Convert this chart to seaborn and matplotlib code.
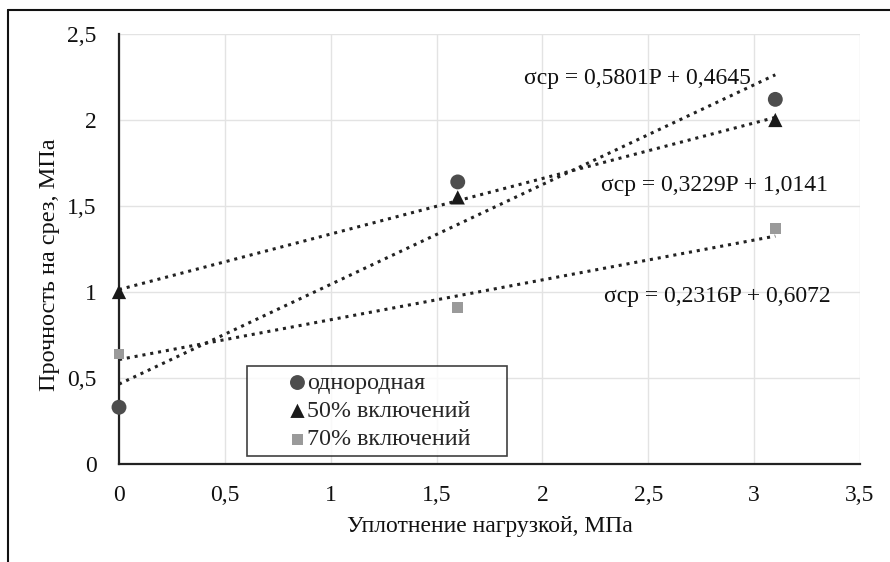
import matplotlib
matplotlib.use("Agg")
import matplotlib.pyplot as plt
import seaborn as sns
import pandas as pd
import numpy as np
from matplotlib.lines import Line2D

# ---- data ----
x_load = [0.0, 1.6, 3.1]
y_homog = [0.33, 1.64, 2.12]
y_50 = [1.00, 1.55, 2.00]
y_70 = [0.64, 0.91, 1.37]
series_names = ["однородная", "50% включений", "70% включений"]
slopes = [0.5801, 0.3229, 0.2316]
intercepts = [0.4645, 1.0141, 0.6072]
eq_texts = ["σср = 0,5801P + 0,4645", "σср = 0,3229P + 1,0141", "σср = 0,2316P + 0,6072"]
xticks = [0, 0.5, 1, 1.5, 2, 2.5, 3, 3.5]
xtick_labels = ["0", "0,5", "1", "1,5", "2", "2,5", "3", "3,5"]
yticks = [0, 0.5, 1, 1.5, 2, 2.5]
ytick_labels = ["0", "0,5", "1", "1,5", "2", "2,5"]

df = pd.DataFrame({
    "x": x_load * 3,
    "y": y_homog + y_50 + y_70,
    "series": sum([[n] * 3 for n in series_names], []),
})

sns.set_theme(style="white")
plt.rcParams["font.family"] = ["Liberation Serif", "DejaVu Serif"]

W, H = 890, 562
fig = plt.figure(figsize=(8.9, 5.62), dpi=100)
ax = fig.add_axes([119 / W, 1 - 464 / H, (860 - 119) / W, (464 - 34) / H])

colors = {"однородная": "#4d4d4d", "50% включений": "#1a1a1a", "70% включений": "#9a9a9a"}
markers = {"однородная": "o", "50% включений": "^", "70% включений": "s"}
sizes = {"однородная": 115, "50% включений": 105, "70% включений": 60}

# trend lines
for s, b in zip(slopes, intercepts):
    xs = np.array([0.0, x_load[-1]])
    ax.plot(xs, s * xs + b, linestyle=(0, (1, 1.6)), color="#222222", lw=2.2, zorder=2)

for name in series_names:
    sub = df[df["series"] == name]
    sns.scatterplot(data=sub, x="x", y="y", ax=ax, color=colors[name],
                    marker=markers[name], s=sizes[name], edgecolor="none",
                    label=name, zorder=3, clip_on=False)

FS = 17
ax.set_xlim(0, 3.5)
ax.set_ylim(0, 2.5)
ax.set_xticks(xticks)
ax.set_xticklabels(xtick_labels)
ax.set_yticks(yticks)
ax.set_yticklabels(ytick_labels)
ax.tick_params(axis="both", labelsize=FS, length=0, colors="#111111")
ax.tick_params(axis="x", pad=15)
ax.tick_params(axis="y", pad=16)
ax.grid(True, color="#e3e3e3", lw=1)
for sp in ["top", "right"]:
    ax.spines[sp].set_visible(False)
for sp in ["left", "bottom"]:
    ax.spines[sp].set_color("#222222")
    ax.spines[sp].set_linewidth(1.6)

ax.set_xlabel("Уплотнение нагрузкой, МПа", fontsize=FS, labelpad=7, color="#111111")
ax.set_ylabel("Прочность на срез, МПа", fontsize=FS + 0.5, color="#111111")
ax.yaxis.set_label_coords((60 - 119) / 741, (464 - 265) / 430)

# equation labels
eq_pos = [(2.447, 2.244), (2.815, 1.622), (2.825, 0.971)]
for (tx, ty), t in zip(eq_pos, eq_texts):
    ax.text(tx, ty, t, fontsize=FS, ha="center", va="center", color="#111111")

lx0 = (247 - 119) / 741
lw_ = (507 - 247) / 741
ltop = (464 - 366) / 430
leg = ax.legend(loc="upper left", bbox_to_anchor=(lx0, ltop - 0.3, lw_, 0.3), mode="expand",
                frameon=True, fancybox=False, fontsize=FS + 0.3, handletextpad=-1.45,
                borderpad=0.25, labelspacing=0.27, handlelength=3.7, borderaxespad=0)
leg.get_frame().set_edgecolor("#111111")
leg.get_frame().set_linewidth(1.2)

# outer frame lines
fig.add_artist(Line2D([8 / W, 1], [1 - 10 / H, 1 - 10 / H], transform=fig.transFigure, color="#111111", lw=1.5))
fig.add_artist(Line2D([8 / W, 8 / W], [0, 1 - 10 / H], transform=fig.transFigure, color="#111111", lw=1.5))

fig.savefig("out.png", dpi=100)
